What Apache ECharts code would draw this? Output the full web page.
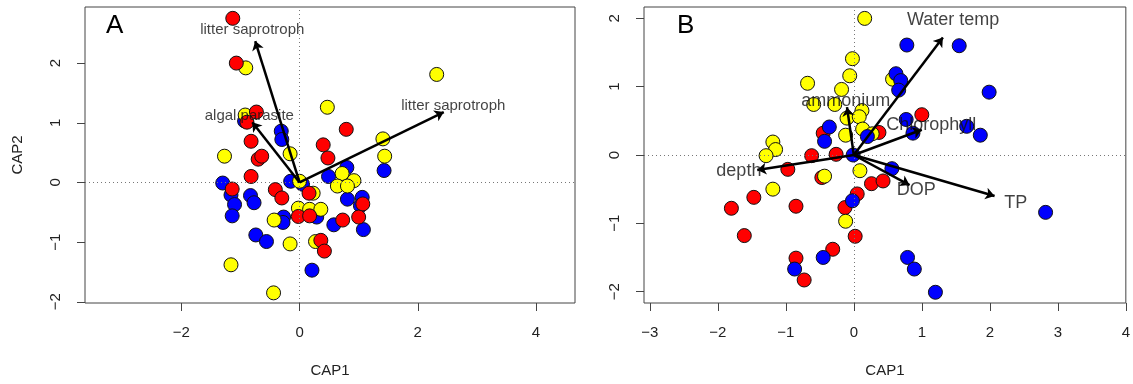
<!DOCTYPE html>
<html>
<head>
<meta charset="utf-8">
<script src="https://cdn.jsdelivr.net/npm/echarts@6/dist/echarts.min.js"></script>
<style>
html, body { margin: 0; padding: 0; background: #fff; }
#chart { width: 1133px; height: 384px; }
</style>
</head>
<body>
<div id="chart"></div>
<script>
// panel A : sample scores (CAP1, CAP2) per colour group
var aBlue = [[-0.93,1.03],[-0.31,0.86],[-0.30,0.72],[-1.30,-0.01],[-0.15,0.02],[0.05,-0.03],[0.80,0.25],[0.49,0.10],[1.43,0.20],
  [-1.16,-0.21],[-1.10,-0.37],[-1.14,-0.56],[-0.83,-0.22],[-0.77,-0.34],[0.81,-0.28],[1.06,-0.25],[1.03,-0.39],[0.29,-0.58],
  [-0.27,-0.58],[-0.28,-0.67],[0.58,-0.71],[1.08,-0.79],[-0.74,-0.88],[-0.56,-0.99],[0.21,-1.47]];
var aYellow = [[-0.91,1.92],[-0.92,1.13],[-1.27,0.44],[-0.16,0.48],[0.00,0.02],[0.47,1.26],[2.32,1.81],[1.41,0.73],[1.44,0.44],
  [0.72,0.15],[0.92,0.03],[0.64,-0.06],[0.81,-0.06],[0.23,-0.18],[-0.02,-0.43],[0.17,-0.45],[0.36,-0.45],[-0.43,-0.63],
  [-0.16,-1.03],[0.27,-0.99],[-1.16,-1.38],[-0.44,-1.85]];
var aRed = [[-1.13,2.75],[-1.07,2.00],[-0.73,1.18],[-0.89,1.01],[-0.82,0.69],[-0.70,0.39],[-0.64,0.44],[-0.82,0.10],[0.79,0.89],
  [0.40,0.63],[0.48,0.41],[-1.14,-0.11],[-0.41,-0.12],[-0.30,-0.26],[0.16,-0.18],[1.07,-0.36],[-0.02,-0.57],[0.17,-0.56],
  [0.73,-0.63],[1.00,-0.58],[0.36,-0.97],[0.42,-1.15]];
// panel A : fitted vectors (tip) and their labels
var aArrows = [[-0.75,2.37],[-0.80,1.01],[2.44,1.18]];
var aLabels = [[-0.80,2.55,'litter saprotroph'],[-0.85,1.11,'algal parasite'],[2.60,1.29,'litter saprotroph']];

// panel B
var bRed = [[-0.45,0.32],[-0.62,-0.01],[-0.26,0.01],[-0.97,-0.21],[-0.47,-0.33],[-1.47,-0.62],[0.37,0.33],[1.00,0.59],[0.26,-0.42],
  [0.43,-0.38],[0.05,-0.57],[-0.13,-0.77],[-1.80,-0.78],[-0.85,-0.75],[-1.61,-1.18],[0.02,-1.19],[-0.31,-1.38],[-0.85,-1.51],[-0.73,-1.83]];
var bYellow = [[0.16,2.00],[-0.02,1.41],[-0.06,1.16],[-0.68,1.05],[-0.18,0.96],[-0.59,0.74],[-0.28,0.74],[0.12,0.65],[-0.10,0.54],
  [0.08,0.56],[-0.12,0.29],[0.13,0.38],[0.27,0.31],[0.57,1.11],[-1.19,0.19],[-1.15,0.08],[-1.29,-0.01],[0.09,-0.23],
  [-0.43,-0.31],[-1.19,-0.50],[-0.12,-0.97]];
var bBlue = [[-0.36,0.41],[-0.43,0.20],[-0.01,0.00],[0.20,0.27],[0.78,1.61],[1.55,1.60],[0.62,1.19],[0.69,1.09],[0.66,0.95],
  [1.99,0.92],[0.77,0.52],[0.87,0.32],[1.66,0.42],[1.86,0.29],[0.56,-0.20],[-0.02,-0.67],[-0.45,-1.50],[-0.87,-1.67],
  [0.79,-1.50],[0.89,-1.67],[1.20,-2.01],[2.82,-0.84]];
var bArrows = [[1.31,1.72],[-0.10,0.70],[1.00,0.37],[0.82,-0.44],[2.07,-0.60],[-1.42,-0.22]];
var bLabels = [[1.46,1.98,'Water temp'],[-0.12,0.79,'ammonium'],[1.14,0.44,'Chlorophyll'],[0.92,-0.51,'DOP'],[2.38,-0.70,'TP'],[-1.69,-0.24,'depth']];

var xTicksA = [-2, 0, 2, 4];
var yTicksA = [-2, -1, 0, 1, 2];
var xTicksB = [-3, -2, -1, 0, 1, 2, 3, 4];
var yTicksB = [-2, -1, 0, 1, 2];

var FONT = 'Liberation Sans, Arial, Helvetica, sans-serif';
var chart = echarts.init(document.getElementById('chart'));

function minus(v) { return String(v).replace('-', '\u2212'); }

function axis(gi, min, max, ticks, name, isY) {
  var a = {
    gridIndex: gi, type: 'value', min: min, max: max,
    axisLine: { show: false, onZero: false },
    splitLine: { show: false },
    axisTick: { show: true, length: 8, customValues: ticks, lineStyle: { color: '#444' } },
    axisLabel: { customValues: ticks, fontSize: 15, color: '#222', fontFamily: FONT, margin: 22, formatter: minus }
  };
  if (isY) a.axisLabel.rotate = 90;
  if (name) {
    a.name = name; a.nameLocation = 'middle'; a.nameGap = 60;
    a.nameTextStyle = { fontSize: 15, color: '#222', fontFamily: FONT };
  }
  return a;
}

function points(data, color, gi, z) {
  return {
    type: 'scatter', xAxisIndex: gi, yAxisIndex: gi, data: data, symbolSize: 14, z: z, silent: true,
    itemStyle: { color: color, borderColor: '#111', borderWidth: 1, opacity: 1 }
  };
}

function arrows(tips, gi) {
  return {
    type: 'lines', coordinateSystem: 'cartesian2d', xAxisIndex: gi, yAxisIndex: gi, z: 10, silent: true,
    symbol: ['none', 'arrow'], symbolSize: 9,
    lineStyle: { color: '#000', width: 2.5, opacity: 1 },
    data: tips.map(function (t) { return { coords: [[0, 0], [t[0], t[1]]] }; })
  };
}

function labels(data, gi, size) {
  return {
    type: 'scatter', xAxisIndex: gi, yAxisIndex: gi, data: data, symbolSize: 1, z: 11, silent: true,
    itemStyle: { color: 'rgba(0,0,0,0)' },
    label: { show: true, position: 'inside', color: '#111', fontSize: size, fontFamily: FONT,
      formatter: function (p) { return p.data[2]; } }
  };
}

function zeroLines(gi) {
  return {
    type: 'scatter', xAxisIndex: gi, yAxisIndex: gi, data: [], z: 1, silent: true,
    markLine: { silent: true, symbol: 'none', label: { show: false },
      lineStyle: { type: [1, 3], color: '#777', width: 1 },
      data: [{ xAxis: 0 }, { yAxis: 0 }] }
  };
}

chart.setOption({
  animation: false,
  backgroundColor: '#fff',
  grid: [
    { left: 85, top: 7, right: 558, bottom: 81, show: true, borderColor: '#444', borderWidth: 1 },
    { left: 644, top: 7, right: 4, bottom: 81, show: true, borderColor: '#444', borderWidth: 1 }
  ],
  xAxis: [
    axis(0, -3.63, 4.66, xTicksA, 'CAP1', false),
    axis(1, -3.085, 4.0, xTicksB, 'CAP1', false)
  ],
  yAxis: [
    axis(0, -2.02, 2.94, yTicksA, 'CAP2', true),
    axis(1, -2.167, 2.167, yTicksB, null, true)
  ],
  graphic: [
    { type: 'text', left: 106, top: 13, style: { text: 'A', fontSize: 26, fill: '#000', fontFamily: FONT } },
    { type: 'text', left: 677, top: 13, style: { text: 'B', fontSize: 26, fill: '#000', fontFamily: FONT } }
  ],
  series: [
    zeroLines(0),
    points(aBlue, '#0000ff', 0, 2),
    points(aYellow, '#ffff00', 0, 3),
    points(aRed, '#ff0000', 0, 4),
    arrows(aArrows, 0),
    labels(aLabels, 0, 15),
    zeroLines(1),
    points(bRed, '#ff0000', 1, 2),
    points(bYellow, '#ffff00', 1, 3),
    points(bBlue, '#0000ff', 1, 4),
    arrows(bArrows, 1),
    labels(bLabels, 1, 18)
  ]
});
</script>
</body>
</html>
